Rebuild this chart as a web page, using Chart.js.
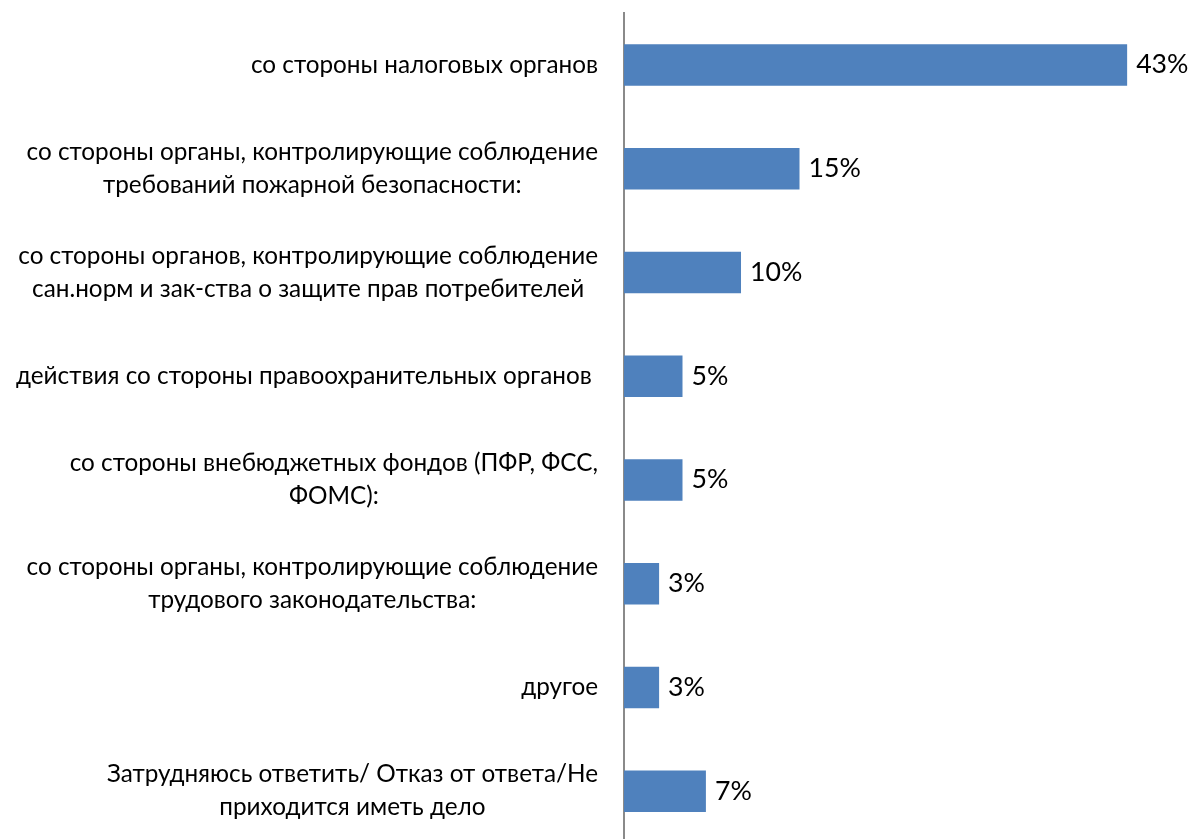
<!DOCTYPE html>
<html><head><meta charset="utf-8">
<script src="https://cdn.jsdelivr.net/npm/chart.js@4/dist/chart.umd.min.js"></script>
<style>
html,body{margin:0;padding:0;background:#fff;overflow:hidden}
#wrap{position:absolute;left:0;top:0;width:1195px;height:843px}
</style>
</head><body><div id="wrap"><canvas id="c"></canvas></div>
<script>
const categories = [
  ["со стороны налоговых органов"],
  ["со стороны органы, контролирующие соблюдение", "требований пожарной безопасности:"],
  ["со стороны органов, контролирующие соблюдение", "сан.норм и зак-ства о защите прав потребителей"],
  ["действия со стороны правоохранительных органов "],
  ["со стороны внебюджетных фондов (ПФР, ФСС,", "ФОМС):"],
  ["со стороны органы, контролирующие соблюдение", "трудового законодательства:"],
  ["другое"],
  ["Затрудняюсь ответить/ Отказ от ответа/Не", "приходится иметь дело"]
];
const values = [43, 15, 10, 5, 5, 3, 3, 7];
const valueLabels = values.map(v => v + "%");

const FONT_FAMILY = "Lato, 'Open Sans', sans-serif";
// fit font size so that the first label matches the reference width
const probe = document.createElement("canvas").getContext("2d");
probe.font = "100px " + FONT_FAMILY;
const FONT_SIZE = Math.round(100 * 347 / probe.measureText("со стороны налоговых органов").width * 10) / 10;
const VALUE_FONT_SIZE = Math.round(FONT_SIZE * 1.1 * 10) / 10;
const LINE_H = 33;

const labelPlugin = {
  id: "labelPlugin",
  afterDatasetsDraw(chart) {
    const ctx = chart.ctx;
    const yScale = chart.scales.y;
    const meta = chart.getDatasetMeta(0);
    const right = chart.chartArea.left - 26;
    ctx.save();
    ctx.font = FONT_SIZE + "px " + FONT_FAMILY;
    ctx.fillStyle = "#000";
    ctx.textBaseline = "middle";
    ctx.textAlign = "center";
    categories.forEach((lines, i) => {
      const cy = yScale.getPixelForTick(i);
      const w = Math.max(...lines.map(l => ctx.measureText(l).width));
      const cx = right - w / 2;
      lines.forEach((l, j) => ctx.fillText(l, cx, cy + (j - (lines.length - 1) / 2) * LINE_H));
    });
    ctx.font = VALUE_FONT_SIZE + "px " + FONT_FAMILY;
    ctx.textAlign = "left";
    meta.data.forEach((bar, i) => ctx.fillText(valueLabels[i], bar.x + 9, bar.y));
    ctx.restore();
  }
};

new Chart(document.getElementById("c"), {
  type: "bar",
  data: {
    labels: categories,
    datasets: [{
      data: values,
      backgroundColor: "#4F81BD",
      borderWidth: 0,
      barPercentage: 0.4,
      categoryPercentage: 1.0
    }]
  },
  options: {
    indexAxis: "y",
    responsive: true,
    maintainAspectRatio: false,
    animation: false,
    layout: { padding: { top: 13, left: 0, right: 0, bottom: 0 } },
    plugins: { legend: { display: false }, tooltip: { enabled: false } },
    scales: {
      x: { display: false, min: 0, max: 48.8 },
      y: {
        position: "left",
        grid: { display: false, drawTicks: false },
        border: { display: true, color: "#8a8a8a", width: 2 },
        ticks: { display: false },
        afterFit(s) { s.width = 624; }
      }
    }
  },
  plugins: [labelPlugin]
});
</script>
</body></html>
